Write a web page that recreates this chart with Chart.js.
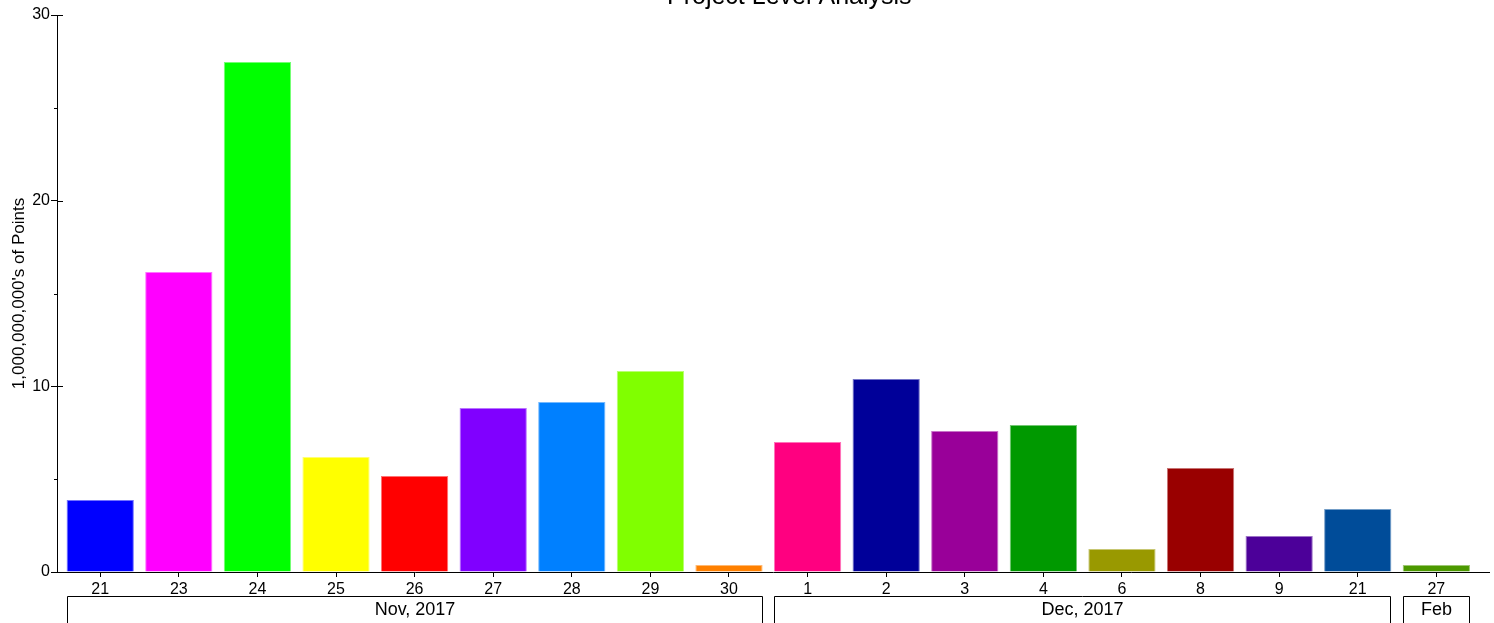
<!DOCTYPE html>
<html>
<head>
<meta charset="utf-8">
<title>Project Level Analysis</title>
<script src="https://cdn.jsdelivr.net/npm/chart.js@4/dist/chart.umd.min.js"></script>
<style>
  html, body { margin: 0; padding: 0; background: #fff; overflow: hidden; }
  #wrap { width: 1494px; height: 623px; position: relative; }
</style>
</head>
<body>
<div id="wrap"><canvas id="projectChart"></canvas></div>
<script>
// Day labels along the bottom, in order
const dayLabels = ['21', '23', '24', '25', '26', '27', '28', '29', '30', '1', '2', '3', '4', '6', '8', '9', '21', '27'];

// Values in 1,000,000,000's of points
const pointsValues = [3.88, 16.16, 27.47, 6.19, 5.17, 8.83, 9.16, 10.83, 0.38, 7.0, 10.39, 7.59, 7.92, 1.24, 5.6, 1.94, 3.39, 0.38];

// One colour per bar
const barColors = ['#0000FF', '#FF00FF', '#00FF00', '#FFFF00', '#FF0000', '#8000FF', '#0080FF', '#80FF00', '#FF8000',
                   '#FF0080', '#000099', '#990099', '#009900', '#999900', '#990000', '#4C0099', '#004C99', '#4C9900'];

// Month groups under the day labels (first and last bar index of each)
const groupLabels = ['Nov, 2017', 'Dec, 2017', 'Feb'];
const groupFirst = [0, 9, 17];
const groupLast = [8, 16, 17];

const yTicks = [0, 5, 10, 15, 20, 25, 30];

const FONT = '"Liberation Sans", Arial, sans-serif';

// lighten a hex colour toward white for the thin bar outline
function lighten(hex, amt) {
    const n = parseInt(hex.slice(1), 16);
    const r = (n >> 16) & 255, g = (n >> 8) & 255, b = n & 255;
    const f = c => Math.round(c + (255 - c) * amt);
    return 'rgb(' + f(r) + ',' + f(g) + ',' + f(b) + ')';
}

// Title that sits partly above the top edge, like the original
const topTitle = {
    id: 'topTitle',
    afterDraw(chart) {
        const ctx = chart.ctx;
        ctx.save();
        ctx.font = '25px ' + FONT;
        ctx.fillStyle = '#000';
        ctx.textAlign = 'left';
        ctx.textBaseline = 'alphabetic';
        ctx.fillText('Project Level Analysis', 667, 4);
        ctx.restore();
    }
};

// Extra tick pieces on the y axis: majors cross the axis, minors are short
const yAxisTicks = {
    id: 'yAxisTicks',
    afterDraw(chart) {
        const ctx = chart.ctx;
        const y = chart.scales.y;
        const x0 = chart.chartArea.left;
        ctx.save();
        ctx.strokeStyle = '#000';
        ctx.lineWidth = 1;
        yTicks.forEach(v => {
            const py = Math.round(y.getPixelForValue(v)) + 0.5;
            ctx.beginPath();
            if (v % 10 === 0) {
                ctx.moveTo(x0, py);
                ctx.lineTo(x0 + 6, py);
            } else {
                ctx.moveTo(x0 - 3, py);
                ctx.lineTo(x0, py);
            }
            ctx.stroke();
        });
        ctx.restore();
    }
};

// Month brackets below the day labels
const monthBrackets = {
    id: 'monthBrackets',
    afterDraw(chart) {
        const ctx = chart.ctx;
        const bars = chart.getDatasetMeta(0).data;
        const top = 596.5;
        const bottom = chart.height;
        ctx.save();
        ctx.strokeStyle = '#000';
        ctx.lineWidth = 1;
        ctx.font = '18px ' + FONT;
        ctx.fillStyle = '#000';
        ctx.textAlign = 'center';
        ctx.textBaseline = 'middle';
        groupLabels.forEach((label, i) => {
            const a = bars[groupFirst[i]], b = bars[groupLast[i]];
            const x1 = Math.round(a.x - a.width / 2) + 0.5;
            const x2 = Math.round(b.x + b.width / 2) - 0.5;
            ctx.beginPath();
            ctx.moveTo(x1, bottom);
            ctx.lineTo(x1, top);
            ctx.lineTo(x2, top);
            ctx.lineTo(x2, bottom);
            ctx.stroke();
            ctx.fillText(label, (x1 + x2) / 2, 610);
        });
        ctx.restore();
    }
};

const ctx = document.getElementById('projectChart').getContext('2d');
new Chart(ctx, {
    type: 'bar',
    data: {
        datasets: [{
            label: 'Points',
            data: pointsValues.map((v, i) => ({ x: i, y: v })),
            backgroundColor: barColors,
            borderColor: barColors.map(c => lighten(c, 0.45)),
            borderWidth: 1,
            barPercentage: 0.856,
            categoryPercentage: 1.0
        }]
    },
    options: {
        responsive: true,
        maintainAspectRatio: false,
        animation: false,
        layout: { padding: { top: 15, right: 5, left: 0, bottom: 0 } },
        plugins: {
            legend: { display: false },
            tooltip: { enabled: false },
            title: { display: false }
        },
        scales: {
            x: {
                type: 'linear',
                offset: false,
                min: -0.55,
                max: 17.67,
                afterBuildTicks: scale => { scale.ticks = dayLabels.map((_, i) => ({ value: i })); },
                afterFit: scale => { scale.height = 51; },
                grid: { display: true, offset: false, drawOnChartArea: false, drawTicks: true, tickLength: 5, tickColor: '#000', color: '#000' },
                border: { display: true, color: '#000', width: 1 },
                ticks: {
                    autoSkip: false,
                    maxRotation: 0,
                    padding: 3,
                    color: '#000',
                    font: { family: FONT, size: 16 },
                    callback: v => dayLabels[v]
                }
            },
            y: {
                min: 0,
                max: 30,
                afterBuildTicks: scale => { scale.ticks = yTicks.map(v => ({ value: v })); },
                afterFit: scale => { scale.width = 57; },
                grid: {
                    display: true,
                    drawOnChartArea: false,
                    drawTicks: true,
                    tickLength: 6,
                    color: '#000',
                    tickColor: c => (c.tick && c.tick.value % 10 === 0) ? '#000' : 'rgba(0,0,0,0)'
                },
                border: { display: true, color: '#000', width: 1 },
                ticks: {
                    padding: 1,
                    color: '#000',
                    font: { family: FONT, size: 16 },
                    callback: v => (v % 10 === 0 ? String(v) : '')
                },
                title: {
                    display: true,
                    text: "1,000,000,000's of Points",
                    color: '#000',
                    font: { family: FONT, size: 17 },
                    padding: { top: 9, bottom: 0 }
                }
            }
        }
    },
    plugins: [topTitle, yAxisTicks, monthBrackets]
});
</script>
</body>
</html>
